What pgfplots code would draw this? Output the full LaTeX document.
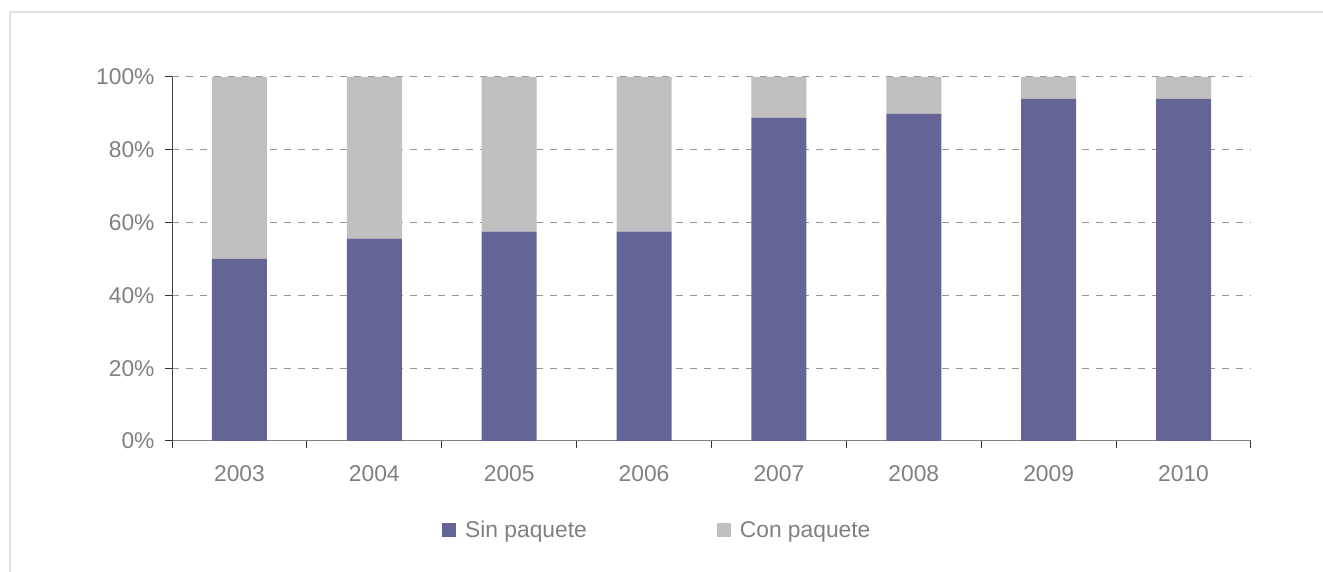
\documentclass[border=0pt]{standalone}
\usepackage{pgfplots}
\pgfplotsset{compat=1.18}
\usepackage{fontspec}
\setmainfont{Liberation Sans}
\definecolor{sinp}{RGB}{100,100,150}
\definecolor{conp}{RGB}{192,192,192}
\definecolor{txt}{RGB}{128,128,128}
\definecolor{gridc}{RGB}{150,150,150}
\definecolor{framec}{RGB}{226,226,226}
\begin{document}
\begin{tikzpicture}[x=1pt,y=1pt]
\useasboundingbox (0,0) rectangle (1323,572);
\draw[framec,line width=1.5pt] (10,0) -- (10,560) -- (1323,560);
\begin{axis}[
  at={(172pt,131pt)}, anchor=south west,
  scale only axis, width=1079pt, height=364pt,
  ybar stacked, bar width=55pt,
  xmin=-0.5, xmax=7.5, ymin=0, ymax=100,
  axis x line*=bottom, axis y line*=left,
  axis line style={-},
  x axis line style={draw=txt, line width=1pt},
  y axis line style={draw=black!75, line width=1pt},
  xtick={-0.5,0.5,...,7.5},
  xticklabels={2003,2004,2005,2006,2007,2008,2009,2010},
  x tick label as interval=true,
  ytick={0,20,...,100},
  yticklabel={\pgfmathprintnumber{\tick}\%},
  /pgf/number format/assume math mode=true,
  tick align=outside, major tick length=7pt,
  tick style={black!80, line width=1pt},
  ymajorgrids, major grid style={gridc, line width=1pt, dash pattern=on 7pt off 7pt},
  ticklabel style={font=\fontsize{22.8}{26}\selectfont, text=txt},
  yticklabel style={xshift=-7pt},
  xticklabel style={yshift=-14pt},
  legend columns=2,
  legend style={draw=none, fill=none, inner sep=0pt, at={(0.2502,-0.2445)}, anchor=west,
    font=\fontsize{22.8}{26}\selectfont, text=txt,
    /tikz/every odd column/.append style={column sep=7pt},
    /tikz/every even column/.append style={column sep=128pt}},
  legend image code/.code={\fill[#1] (0pt,-7pt) rectangle (14pt,7pt);},
]
\addplot[fill=sinp, draw=none] coordinates {(0,50) (1,55.6) (2,57.5) (3,57.5) (4,88.8) (5,89.9) (6,94) (7,94)};
\addplot[fill=conp, draw=none] coordinates {(0,50) (1,44.4) (2,42.5) (3,42.5) (4,11.2) (5,10.1) (6,6) (7,6)};
\legend{Sin paquete, Con paquete}
\end{axis}
\end{tikzpicture}
\end{document}
